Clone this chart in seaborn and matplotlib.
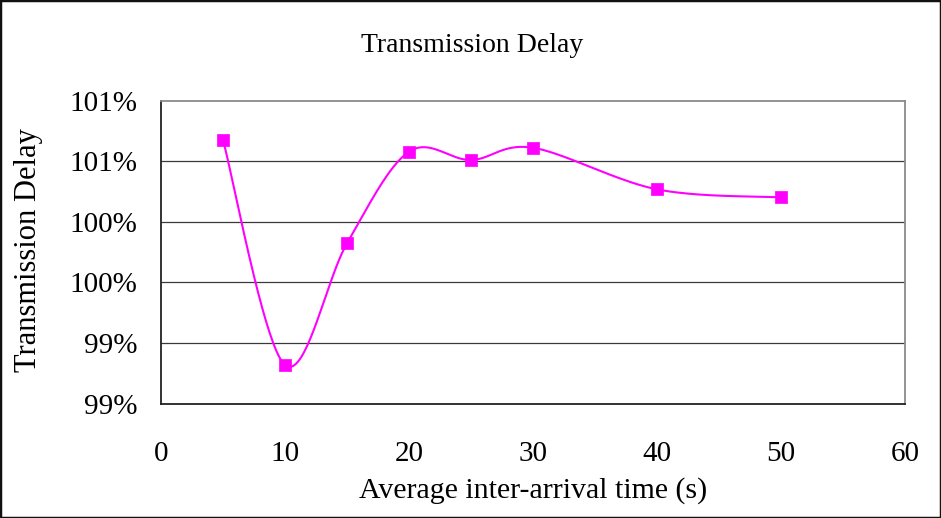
import numpy as np
import pandas as pd
import matplotlib
matplotlib.use("Agg")
import matplotlib.pyplot as plt
import matplotlib.ticker as mticker
from matplotlib.patches import Rectangle
import seaborn as sns

# ---- data ----
arrival_time = [5, 10, 15, 20, 25, 30, 40, 50]
delay_pct = [100.674, 98.818, 99.822, 100.578, 100.509, 100.610, 100.267, 100.201]
x_ticks = [0, 10, 20, 30, 40, 50, 60]
y_ticks = [98.5, 99.0, 99.5, 100.0, 100.5, 101.0]

title = "Transmission Delay"
x_label = "Average inter-arrival time (s)"
y_label = "Transmission Delay"

sns.set_theme(style="white")
plt.rcParams["font.family"] = ["Liberation Serif", "DejaVu Serif"]


def smooth_curve(xs, ys, n=40):
    """Excel-style smoothed line: Catmull-Rom Bezier segments through the points."""
    P = np.column_stack([xs, ys]).astype(float)
    out = []
    for i in range(len(P) - 1):
        p0 = P[i - 1] if i > 0 else P[i]
        p1, p2 = P[i], P[i + 1]
        p3 = P[i + 2] if i + 2 < len(P) else P[i + 1]
        c1 = p1 + (p2 - p0) / 6.0
        c2 = p2 - (p3 - p1) / 6.0
        t = np.linspace(0, 1, n)[:, None]
        seg = ((1 - t) ** 3) * p1 + 3 * ((1 - t) ** 2) * t * c1 + 3 * (1 - t) * t ** 2 * c2 + t ** 3 * p2
        out.append(seg if i == 0 else seg[1:])
    seg = np.vstack(out)
    return seg[:, 0], seg[:, 1]


df = pd.DataFrame({"time": arrival_time, "delay": delay_pct})
sx, sy = smooth_curve(df["time"].values, df["delay"].values)
curve = pd.DataFrame({"time": sx, "delay": sy})

fig = plt.figure(figsize=(9.41, 5.18), dpi=100)
fig.patch.set_facecolor("white")
ax = fig.add_axes([161 / 941, 1 - 403.5 / 518, 744 / 941, 303 / 518])

ax.set_xlim(0, 60)
ax.set_ylim(98.5, 101.0)
ax.set_xticks(x_ticks)
ax.set_yticks(y_ticks)

for yv in y_ticks[1:-1]:
    ax.axhline(yv, color="#3a3a3a", lw=0.9, zorder=1)

sns.lineplot(data=curve, x="time", y="delay", sort=False, estimator=None,
             color="#FF00FF", lw=1.5, ax=ax, zorder=3)
sns.scatterplot(data=df, x="time", y="delay", marker="s", s=66, color="#FF00FF",
                edgecolor="#FF00FF", linewidth=0.5, ax=ax, zorder=4)


def excel_pct(v, pos):
    return f"{int(np.floor(v + 0.5 + 1e-9))}%"


ax.yaxis.set_major_formatter(mticker.FuncFormatter(excel_pct))

ax.tick_params(axis="x", direction="in", length=7, width=1, color="#333333",
               pad=27, labelsize=21, labelcolor="black")
ax.tick_params(axis="y", direction="in", length=7, width=1.2, color="#222222",
               pad=17, labelsize=21, labelcolor="black")
ax.tick_params(top=False, right=False)

for side in ["left", "bottom"]:
    ax.spines[side].set_color("#222222")
    ax.spines[side].set_linewidth(1.3)
for side in ["top", "right"]:
    ax.spines[side].set_color("#8a8a8a")
    ax.spines[side].set_linewidth(1.3)

ax.set_xlabel(x_label, fontsize=21.5, color="black")
ax.xaxis.set_label_coords(0.5, -0.2426)
ax.set_ylabel(y_label, fontsize=22, color="black")
ax.yaxis.set_label_coords(-0.158, 0.505)

fig.text(472 / 941, 1 - 52 / 518, title, ha="center", va="baseline",
         fontsize=20, color="black")

fig.patches.append(Rectangle((0, 0), 1, 1, transform=fig.transFigure,
                             fill=False, edgecolor="#111111", lw=2.5))

fig.savefig("out.png", dpi=100, facecolor="white")
